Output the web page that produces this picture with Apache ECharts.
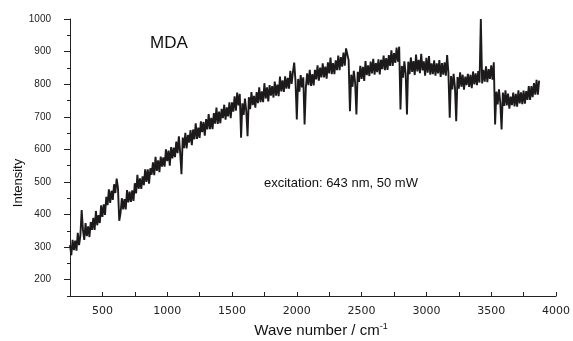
<!DOCTYPE html>
<html><head><meta charset="utf-8">
<script src="https://cdn.jsdelivr.net/npm/echarts@6/dist/echarts.min.js"></script>
<style>html,body{margin:0;padding:0;background:#fff}#c{width:573px;height:341px}</style>
</head><body><div id="c"></div>
<script>
// wavenumber grid: first value, step (cm-1)
const waveStart = 250;
const waveStep = 10;
// intensity segments (detector windows)
const segA = [306,275,322,291,320,289,344,306,335,414,353,322,374,334,364,331,377,353,390,353,411,367,398,374,428,393,431,399,454,429,477,436,473,445,493,466,510,482];
const segB = [381,404,450,416,447,416,475,437,470,439,474,442,496,465,522,479,511,479,517,490,539,500,539,495,542,522,560,521,577,534,566,530,578,547,575,547,600,564,596,550,607,572,605,576,624,588,640,590,524,636,604,651,603,644,621,659,613,661,631,680,632,667,635,686,653,684,642,693,661,708,662,697,662,711,679,728,678,716,680,724,696,737,691,729,701,744,696,744,716,763,719,774,735,770];
const segC = [636,741,706,756,718,640,760,723,776,736,764,728,776,742,790,745,778,745,803,756,790,747,797,765,794,759,808,765,799,763,823,778,812,776,824,786,819,786,841,801,837,866,809];
const segD = [692,816,777,828,790,821,676,790,833,797,844,795,831,796,844,815,858,811,851,821,864,821,854,817,867,833,882,831,865,831,873,843,888,843,883,854,897,857,910,906,873];
const segE = [717,829,792,841,805,707,838,807,856,816,853,810,871,828,858,825,869,833,878,829,865,837,876,830,875,846,888,843,880,844,889,856,904,856,895,865,912,869,915];
const segF = [722,856,820,870,832,707,869,831,882,838,871,828,891,839,875,834,893,842,870,826,881,835,886,829,864,831,873,826,864,833,874,822,865,829,867,826,889,833];
const segG = [697,825,784,832,792,686,822,786,836,792,829,783,823,797,832,792,829,788,839,799,833,797,840,805,1000,802,844,808,855,806,846,816,858,814,867];
const segH = [676,777,738,784,743,661,774,733,781,735,771,725,762,736,774,732,770,731,781,741,775,739,780,740,779,752,794,752,794,760,803,768,813,768,811];
const xTicks = [500,1000,1500,2000,2500,3000,3500,4000];
const yTicks = [200,300,400,500,600,700,800,900,1000];

const intensity = [].concat(segA, segB, segC, segD, segE, segF, segG, segH);
const data = intensity.map((v, i) => [waveStart + i * waveStep, v]);

const FONT = 'Liberation Sans, Arial, sans-serif';
const chart = echarts.init(document.getElementById('c'), null, {renderer: 'canvas'});
chart.setOption({
  animation: false,
  backgroundColor: '#fff',
  grid: [
    {left: 70, right: 14, top: 19, bottom: 45},
    {left: 70, right: 14, top: 19, bottom: 61.3}
  ],
  xAxis: [
    {gridIndex: 0, type: 'value', min: 250, max: 4000, interval: 250,
     axisLine: {lineStyle: {color: '#222', width: 1}},
     axisTick: {inside: true, length: 4, lineStyle: {color: '#222'}},
     axisLabel: {fontFamily: 'DejaVu Sans, sans-serif', fontSize: 11, color: '#222', margin: 10,
       formatter: v => xTicks.indexOf(v) >= 0 ? String(v) : ''},
     splitLine: {show: false}},
    {gridIndex: 1, type: 'value', min: 250, max: 4000, show: false}
  ],
  yAxis: [
    {gridIndex: 0, type: 'value', min: 150, max: 1000, interval: 50,
     axisLine: {show: true, lineStyle: {color: '#222', width: 1}},
     axisTick: {show: true, length: 3, lineStyle: {color: '#222'}},
     axisLabel: {show: false}, splitLine: {show: false}},
    {gridIndex: 1, type: 'value', min: 200, max: 1000, interval: 100,
     axisLine: {show: false},
     axisTick: {show: true, length: 6, lineStyle: {color: '#222'}},
     axisLabel: {fontFamily: FONT, fontSize: 10, color: '#222', margin: 19,
       formatter: v => yTicks.indexOf(v) >= 0 ? String(v) : ''},
     splitLine: {show: false}}
  ],
  series: [{
    type: 'line', xAxisIndex: 0, yAxisIndex: 0, data: data,
    showSymbol: false, symbol: 'none', sampling: false,
    lineStyle: {color: '#1c1a1b', width: 1.9, join: 'miter', miterLimit: 2}
  }],
  graphic: [
    {type: 'text', left: 150, top: 35, style: {text: 'MDA', font: '17px ' + FONT, fill: '#111'}},
    {type: 'text', left: 264, top: 177, style: {text: 'excitation: 643 nm, 50 mW', font: '13px ' + FONT, fill: '#111'}},
    {type: 'text', x: 18, y: 183, rotation: Math.PI / 2,
     style: {text: 'Intensity', font: '13px ' + FONT, fill: '#111', align: 'center', verticalAlign: 'middle'}},
    {type: 'text', x: 321, y: 331,
     style: {text: '{a|Wave number / cm}{s|-1}', align: 'center', verticalAlign: 'middle', fill: '#111',
       rich: {a: {fontFamily: FONT, fontSize: 15, fill: '#111'},
              s: {fontFamily: FONT, fontSize: 9, fill: '#111', verticalAlign: 'top', padding: [0, 0, 8, 0]}}}}
  ]
});
</script></body></html>
